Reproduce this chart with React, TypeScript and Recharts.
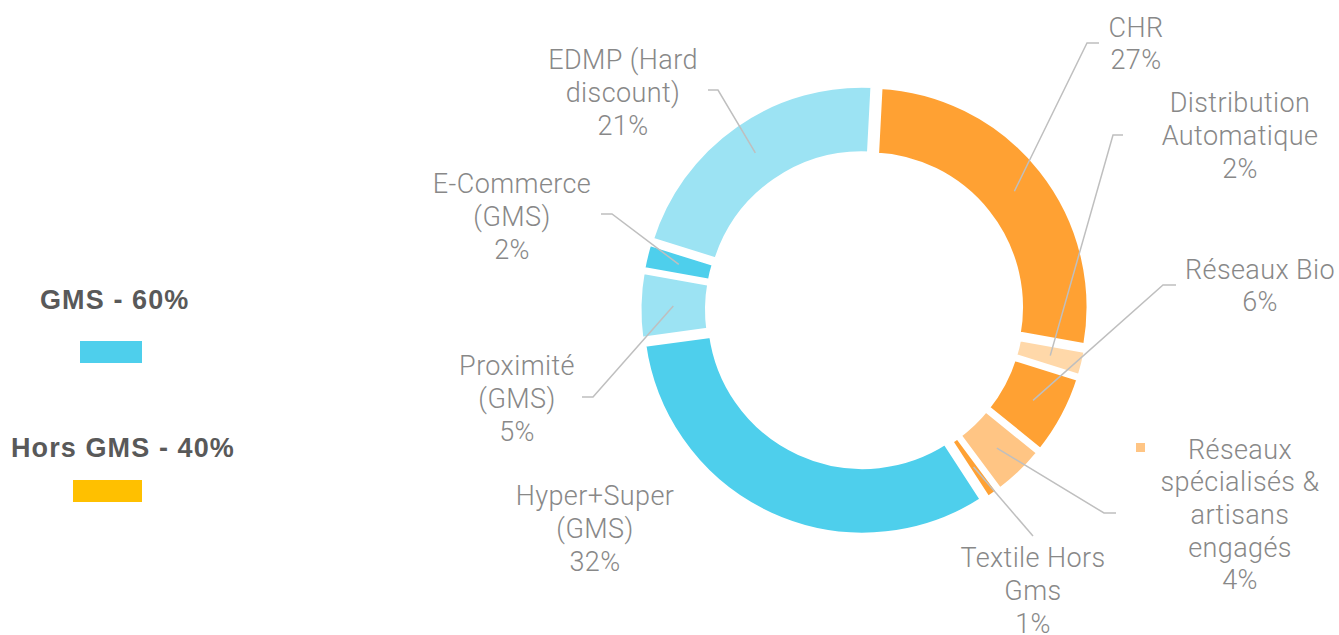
import { PieChart, Pie, Cell, Sector } from "recharts";

const categories = [
  "CHR",
  "Distribution Automatique",
  "Réseaux Bio",
  "Réseaux spécialisés & artisans engagés",
  "Textile Hors Gms",
  "Hyper+Super (GMS)",
  "Proximité (GMS)",
  "E-Commerce (GMS)",
  "EDMP (Hard discount)",
];

// how each category name is broken on the chart
const labelLines = [
  ["CHR"],
  ["Distribution", "Automatique"],
  ["Réseaux Bio"],
  ["Réseaux", "spécialisés &", "artisans", "engagés"],
  ["Textile Hors", "Gms"],
  ["Hyper+Super", "(GMS)"],
  ["Proximité", "(GMS)"],
  ["E-Commerce", "(GMS)"],
  ["EDMP (Hard", "discount)"],
];

const shares = [27, 2, 6, 4, 1, 32, 5, 2, 21];

const groupNames = ["GMS - 60%", "Hors GMS - 40%"];

const sliceColors = [
  "#FFA133",
  "#FFD8A9",
  "#FFA133",
  "#FFC584",
  "#FFA133",
  "#4ECFEC",
  "#9CE3F3",
  "#4ECFEC",
  "#9CE3F3",
];
const groupColors = ["#4ECFEC", "#FFC000"];

// label placement: text block centre, elbow of leader line, end of short tail
const labelLayout = [
  { tx: 1136, ty: 44, ex: 1087, ey: 43, hx: 1099 },
  { tx: 1240, ty: 136, ex: 1113, ey: 135, hx: 1123 },
  { tx: 1260, ty: 286, ex: 1163, ey: 285, hx: 1176 },
  { tx: 1240, ty: 515, ex: 1104, ey: 513, hx: 1116, marker: true },
  { tx: 1033, ty: 591, ex: 1033, ey: 536, hx: 1033 },
  { tx: 595, ty: 529, ex: null, ey: null, hx: null },
  { tx: 517, ty: 399, ex: 593, ey: 397, hx: 582 },
  { tx: 512, ty: 217, ex: 612, ey: 214, hx: 601 },
  { tx: 623, ty: 93, ex: 718, ey: 90, hx: 708 },
];

const data = categories.map((name, i) => ({ name, value: shares[i] }));

const RADIAN = Math.PI / 180;
const LINE_H = 32.7;
const EXPLODE = 4.5;

// slices are pulled a little away from the centre
const renderSector = (props: any) => {
  const { cx, cy, midAngle } = props;
  const dx = EXPLODE * Math.cos(-midAngle * RADIAN);
  const dy = EXPLODE * Math.sin(-midAngle * RADIAN);
  return <Sector {...props} cx={cx + dx} cy={cy + dy} />;
};

const renderLabel = (props: any) => {
  const { cx, cy, midAngle, innerRadius, outerRadius, index } = props;
  const lay = labelLayout[index];
  const r = (innerRadius + outerRadius) / 2 + EXPLODE;
  const ax = cx + r * Math.cos(-midAngle * RADIAN);
  const ay = cy + r * Math.sin(-midAngle * RADIAN);
  const lines = [...labelLines[index], `${shares[index]}%`];
  const top = lay.ty - ((lines.length - 1) * LINE_H) / 2;
  return (
    <g>
      {lay.ex !== null && (
        <polyline
          points={`${ax},${ay} ${lay.ex},${lay.ey} ${lay.hx},${lay.ey}`}
          fill="none"
          stroke="#BFBFBF"
          strokeWidth={1.5}
        />
      )}
      {lay.marker && (
        <rect x={1136} y={443} width={9} height={9} fill={sliceColors[index]} />
      )}
      <text
        textAnchor="middle"
        fill="#888888"
        fontSize={27}
        fontWeight={300}
        letterSpacing={0.4}
        fontFamily="'Helvetica Neue', Roboto, sans-serif"
      >
        {lines.map((l, i) => (
          <tspan key={i} x={lay.tx} y={top + i * LINE_H} dominantBaseline="central">
            {l}
          </tspan>
        ))}
      </text>
    </g>
  );
};

export default function App() {
  return (
    <div
      style={{
        position: "absolute",
        left: 0,
        top: 0,
        width: 1339,
        height: 635,
        background: "#fff",
      }}
    >
      {groupNames.map((g, i) => (
        <div key={g}>
          <div
            style={{
              position: "absolute",
              left: i === 0 ? 40 : 11,
              top: i === 0 ? 285 : 433,
              fontFamily: "'Helvetica Neue', 'Liberation Sans', Arial, sans-serif",
              fontWeight: 700,
              fontSize: 27,
              letterSpacing: 1.1,
              color: "#595959",
              whiteSpace: "nowrap",
            }}
          >
            {g}
          </div>
          <div
            style={{
              position: "absolute",
              left: i === 0 ? 80 : 73,
              top: i === 0 ? 341 : 480,
              width: i === 0 ? 62 : 69,
              height: 22,
              background: groupColors[i],
            }}
          />
        </div>
      ))}
      <div style={{ position: "absolute", left: 0, top: 0 }}>
        <PieChart width={1339} height={635}>
          <Pie
            data={data}
            dataKey="value"
            nameKey="name"
            cx={859.5}
            cy={305}
            innerRadius={152}
            outerRadius={221.5}
            startAngle={87}
            endAngle={-273}
            stroke="#fff"
            strokeWidth={6}
            shape={renderSector}
            label={renderLabel}
            labelLine={false}
            isAnimationActive={false}
          >
            {data.map((d, i) => (
              <Cell key={d.name} fill={sliceColors[i]} />
            ))}
          </Pie>
        </PieChart>
      </div>
    </div>
  );
}
